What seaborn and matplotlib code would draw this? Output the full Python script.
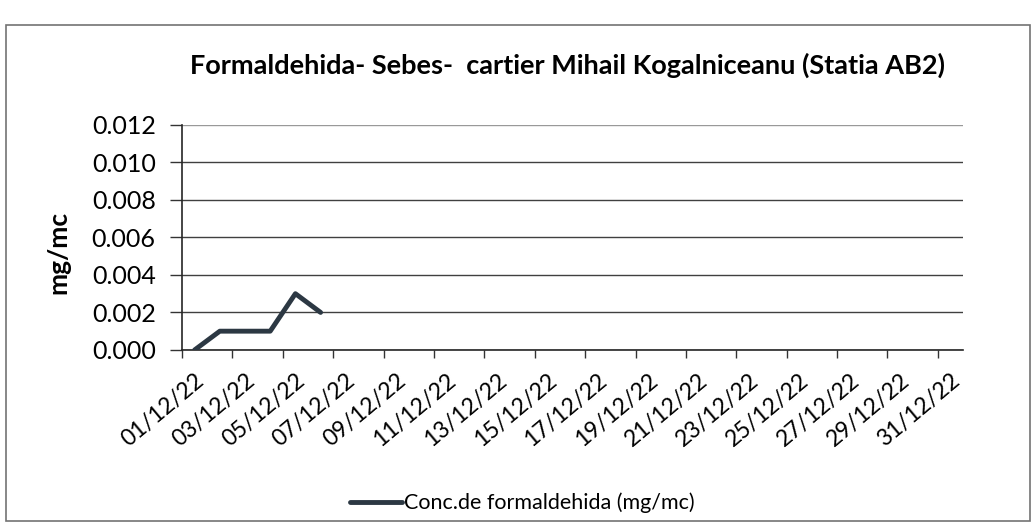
import numpy as np
import pandas as pd
import matplotlib
matplotlib.use("Agg")
import matplotlib.pyplot as plt
from matplotlib.patches import Rectangle
from matplotlib.ticker import FixedLocator
import seaborn as sns

# formaldehyde concentration, Sebes - Mihail Kogalniceanu station (AB2), December 2022
days = list(range(1, 32))
date_labels = ["%02d/12/22" % d for d in days]
measured_days = [1, 2, 3, 4, 5, 6]
conc = [0.000, 0.001, 0.001, 0.001, 0.003, 0.002]
y_ticks = [0.000, 0.002, 0.004, 0.006, 0.008, 0.010, 0.012]

sns.set_theme(style="white")
plt.rcParams["font.family"] = ["Lato", "DejaVu Sans"]
plt.rcParams["text.color"] = "black"
plt.rcParams["xtick.color"] = "black"
plt.rcParams["ytick.color"] = "black"
plt.rcParams["axes.labelcolor"] = "black"

df = pd.DataFrame({"day": measured_days, "conc": conc})

fig = plt.figure(figsize=(10.36, 5.27), dpi=100)
ax = fig.add_axes([0.1757, 0.336, 0.7539, 0.427])

# outer chart border
fig.patches.append(Rectangle((0.006, 0.012), 0.988, 0.94, transform=fig.transFigure,
                             fill=False, edgecolor="0.45", linewidth=1.2))

for v in y_ticks[:-1]:
    ax.axhline(v, color="0.25", linewidth=1.0, zorder=1)
ax.axhline(0.012, color="0.6", linewidth=1.0, zorder=1)

sns.lineplot(data=df, x="day", y="conc", ax=ax, color="#2c3843", linewidth=3.5,
             label="Conc.de formaldehida (mg/mc)", zorder=3)

ax.set_xlim(0.5, 31.5)
ax.set_ylim(0, 0.012)
ax.set_yticks(y_ticks)
ax.set_yticklabels(["%.3f" % v for v in y_ticks], fontsize=18)

ax.set_xticks(days[::2])
ax.set_xticklabels(date_labels[::2], fontsize=16.5)
plt.setp(ax.get_xticklabels(), rotation=40, ha="right", rotation_mode="anchor")
ax.xaxis.set_minor_locator(FixedLocator(np.arange(0.5, 31.6, 2)))
ax.tick_params(axis="x", which="major", length=0, pad=14)
ax.tick_params(axis="x", which="minor", length=6, width=1, color="0.2", direction="out", bottom=True)
ax.tick_params(axis="y", length=9, width=1, color="0.2", direction="out", left=True, pad=10)

for s in ["top", "right"]:
    ax.spines[s].set_visible(False)
for s in ["left", "bottom"]:
    ax.spines[s].set_color("0.15")
    ax.spines[s].set_linewidth(1.2)

ax.set_xlabel("")
ax.set_ylabel("mg/mc", fontsize=19, fontweight="bold")
ax.yaxis.set_label_coords(-0.143, 0.435)
ax.set_title("Formaldehida- Sebes-  cartier Mihail Kogalniceanu (Statia AB2)",
             fontsize=19.5, fontweight="bold", pad=37, x=0.493)

leg = ax.legend(loc="center", bbox_to_anchor=(0.436, -0.68), frameon=False,
                fontsize=15.5, handlelength=2.4, handletextpad=0.1)

fig.savefig("out.png", dpi=100)
